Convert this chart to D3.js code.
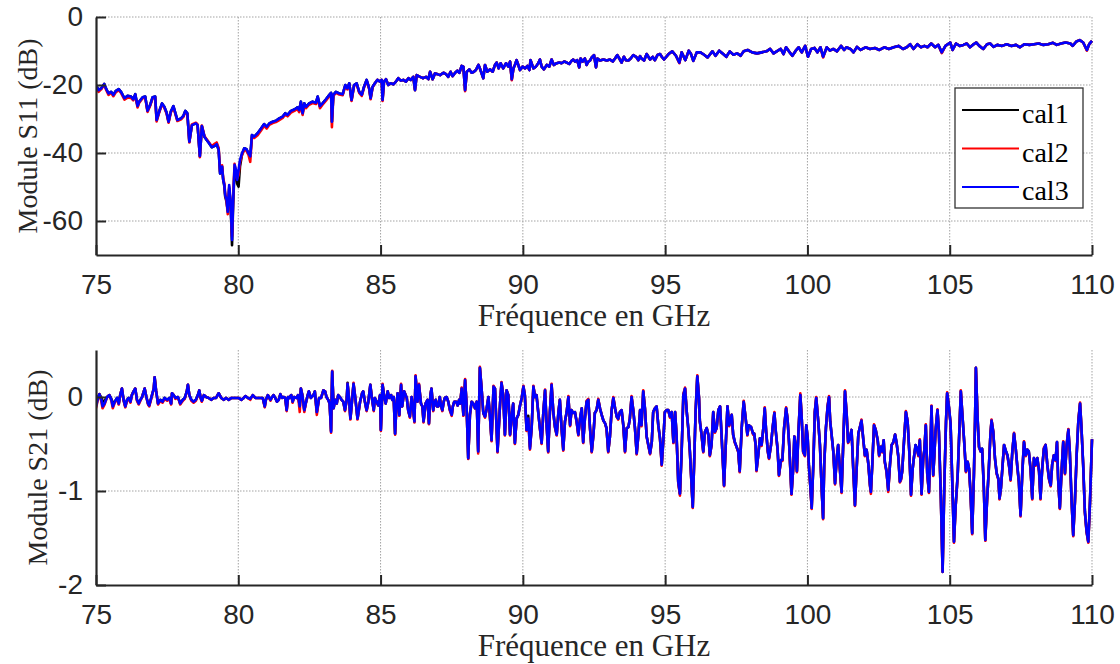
<!DOCTYPE html>
<html><head><meta charset="utf-8">
<script src="https://cdn.jsdelivr.net/npm/d3@7"></script>
<style>body{margin:0;background:#fff}svg{display:block}</style>
</head><body><svg id="chart" width="1120" height="664"></svg>
<script>
const xTicks=[75,80,85,90,95,100,105,110];
const s11YTicks=[0,-20,-40,-60];
const s21YTicks=[0,-1,-2];
const seriesNames=["cal1","cal2","cal3"];
const seriesColors=["#000000","#ff0000","#0000ff"];
const xTitle="Fréquence en GHz";

const s11Freq=[
75.00,75.09,75.18,75.29,75.35,75.44,75.53,75.61,75.70,75.80,
75.88,76.00,76.11,76.23,76.31,76.38,76.46,76.52,76.64,76.73,
76.81,76.90,76.99,77.08,77.13,77.22,77.32,77.40,77.48,77.55,
77.63,77.72,77.79,77.86,77.99,78.07,78.14,78.21,78.28,78.37,
78.51,78.57,78.65,78.72,78.81,78.89,78.98,79.07,79.17,79.24,
79.31,79.36,79.43,79.47,79.51,79.54,79.59,79.63,79.68,79.73,
79.78,79.82,79.87,79.92,79.96,80.01,80.06,80.13,80.21,80.29,
80.36,80.42,80.48,80.56,80.68,80.80,80.91,81.00,81.09,81.21,
81.32,81.44,81.56,81.65,81.73,81.85,81.97,82.08,82.14,82.20,
82.26,82.32,82.38,82.49,82.61,82.73,82.79,82.87,82.96,83.08,
83.20,83.26,83.29,83.34,83.43,83.55,83.67,83.76,83.83,83.90,
83.98,84.07,84.16,84.25,84.34,84.42,84.51,84.60,84.65,84.72,
84.80,84.89,84.98,85.04,85.07,85.12,85.19,85.27,85.35,85.45,
85.54,85.62,85.71,85.80,85.89,85.98,86.06,86.15,86.21,86.27,
86.39,86.50,86.60,86.68,86.74,86.83,86.91,86.99,87.09,87.21,
87.30,87.38,87.46,87.53,87.62,87.70,87.77,87.85,87.91,87.97,
88.03,88.12,88.20,88.28,88.35,88.44,88.49,88.55,88.61,88.67,
88.75,88.85,88.94,89.02,89.08,89.15,89.22,89.31,89.41,89.49,
89.55,89.61,89.67,89.72,89.78,89.84,89.90,89.99,90.08,90.16,
90.23,90.27,90.37,90.46,90.54,90.60,90.66,90.74,90.84,90.93,
91.01,91.09,91.19,91.28,91.36,91.45,91.54,91.63,91.72,91.77,
91.83,91.91,91.98,92.03,92.10,92.18,92.24,92.30,92.36,92.42,
92.50,92.57,92.62,92.71,92.83,92.95,93.06,93.16,93.24,93.32,
93.39,93.47,93.55,93.62,93.71,93.79,93.88,93.98,94.06,94.12,
94.17,94.26,94.35,94.41,94.47,94.56,94.64,94.73,94.82,94.88,
94.96,95.12,95.25,95.38,95.50,95.58,95.71,95.83,95.91,95.99,
96.11,96.24,96.37,96.49,96.66,96.77,96.90,97.04,97.15,97.27,
97.40,97.53,97.65,97.76,97.90,98.06,98.23,98.39,98.56,98.69,
98.81,98.92,99.06,99.16,99.25,99.35,99.47,99.59,99.69,99.80,
99.92,100.02,100.13,100.25,100.35,100.46,100.55,100.68,100.79,100.91,
101.04,101.18,101.29,101.37,101.51,101.62,101.74,101.87,102.04,102.20,
102.37,102.53,102.70,102.86,103.03,103.20,103.36,103.49,103.61,103.73,
103.86,103.99,104.11,104.22,104.35,104.49,104.60,104.72,104.85,105.02,
105.10,105.22,105.35,105.48,105.60,105.71,105.81,105.93,106.04,106.18,
106.31,106.42,106.54,106.67,106.84,107.00,107.17,107.33,107.47,107.63,
107.80,107.96,108.13,108.29,108.46,108.63,108.76,108.91,109.07,109.24,
109.32,109.45,109.57,109.69,109.82,109.90,110.00];

const s11Cal1=[
-20.0,-21.5,-21.0,-19.7,-21.0,-22.5,-22.0,-22.9,-21.7,-21.2,
-22.0,-23.9,-23.2,-23.4,-24.2,-22.7,-26.2,-24.9,-23.6,-23.4,
-27.6,-25.9,-23.6,-23.4,-30.3,-27.8,-25.4,-26.4,-28.1,-30.8,
-27.8,-26.2,-28.3,-30.3,-29.8,-29.1,-27.6,-28.3,-36.7,-31.8,
-31.3,-31.8,-40.9,-32.1,-35.2,-36.2,-37.2,-38.3,-37.9,-37.4,
-39.1,-46.0,-44.0,-47.9,-49.8,-52.8,-54.5,-57.0,-50.5,-55.0,
-67.1,-55.0,-44.5,-46.5,-49.0,-49.9,-44.0,-40.5,-38.6,-38.9,
-40.1,-41.0,-34.7,-35.2,-34.2,-32.8,-31.5,-32.3,-31.3,-30.8,
-30.5,-29.8,-29.3,-28.3,-28.8,-27.6,-27.2,-26.6,-27.4,-24.9,
-28.3,-25.4,-26.4,-25.4,-24.9,-25.2,-23.4,-26.2,-25.4,-24.2,
-22.9,-22.3,-30.8,-22.9,-22.0,-22.5,-22.7,-20.0,-21.0,-19.5,
-24.4,-20.0,-19.5,-22.0,-22.9,-20.5,-18.5,-21.0,-23.9,-20.5,
-19.5,-18.5,-19.0,-18.5,-24.4,-19.0,-18.3,-20.0,-19.5,-19.8,
-19.0,-18.0,-18.7,-18.5,-19.0,-18.0,-18.5,-17.6,-21.5,-17.1,
-17.6,-18.0,-17.6,-18.3,-16.1,-18.3,-16.6,-16.8,-17.1,-16.4,
-16.8,-17.6,-16.1,-17.4,-16.4,-15.8,-16.4,-14.4,-14.6,-21.5,
-16.1,-15.4,-16.4,-16.1,-15.6,-14.1,-15.1,-16.6,-18.0,-14.1,
-16.1,-15.4,-16.1,-14.1,-13.4,-15.1,-13.6,-15.1,-13.6,-14.6,
-13.1,-18.3,-15.1,-14.1,-12.7,-14.1,-15.6,-14.6,-15.1,-14.4,
-15.6,-12.7,-15.1,-14.6,-13.6,-12.5,-14.6,-15.4,-14.1,-14.6,
-12.5,-14.1,-13.6,-13.4,-13.6,-13.1,-13.4,-13.8,-12.8,-12.5,
-13.1,-12.7,-14.8,-12.2,-13.1,-12.2,-14.1,-13.1,-12.8,-11.9,
-11.2,-14.8,-12.2,-12.8,-12.5,-12.8,-12.5,-13.1,-12.2,-11.2,
-12.2,-13.4,-11.7,-12.7,-12.8,-12.2,-11.2,-11.7,-12.7,-11.5,
-12.2,-12.8,-10.9,-11.7,-12.5,-11.7,-12.7,-11.2,-10.9,-11.7,
-12.5,-10.9,-10.1,-11.4,-13.4,-10.4,-12.7,-9.9,-10.9,-12.9,
-10.4,-10.4,-11.1,-11.9,-10.1,-11.4,-9.9,-10.9,-11.7,-10.1,
-11.1,-10.7,-11.4,-10.1,-9.7,-10.4,-10.7,-10.4,-10.1,-9.4,
-10.7,-10.1,-9.4,-10.9,-8.9,-10.1,-11.4,-9.9,-8.9,-10.4,
-8.5,-11.7,-9.4,-9.1,-10.4,-8.9,-11.7,-8.9,-9.9,-9.4,
-10.1,-8.5,-9.7,-8.9,-9.4,-10.4,-8.8,-9.7,-8.9,-9.4,
-9.1,-9.7,-8.9,-9.4,-8.9,-8.5,-9.4,-8.9,-8.0,-9.4,
-8.0,-8.9,-8.5,-8.9,-7.8,-8.9,-8.2,-10.4,-8.5,-7.5,
-9.7,-7.8,-8.5,-8.2,-7.8,-8.9,-8.2,-7.5,-8.5,-9.4,
-8.0,-7.8,-8.8,-8.2,-8.5,-8.0,-8.5,-8.2,-8.9,-8.0,
-8.2,-8.0,-7.8,-8.2,-8.0,-7.6,-8.2,-7.8,-7.5,-7.8,
-8.5,-7.2,-6.8,-7.5,-9.7,-8.0,-7.0];

const s11Cal2=[
-20.2,-22.0,-21.3,-19.9,-21.3,-22.9,-22.3,-23.3,-22.1,-21.5,
-22.3,-24.3,-23.7,-23.8,-24.5,-23.0,-26.6,-25.2,-23.9,-23.7,
-27.9,-26.2,-23.9,-23.7,-30.7,-28.1,-25.7,-26.7,-28.4,-31.1,
-28.1,-26.5,-28.6,-30.6,-30.1,-29.4,-27.9,-28.6,-36.9,-31.6,
-31.1,-31.6,-41.2,-31.9,-35.0,-36.0,-37.0,-38.0,-37.3,-36.9,
-38.5,-45.5,-43.6,-47.5,-49.0,-52.0,-54.3,-58.0,-50.0,-54.8,
-64.5,-53.0,-43.2,-45.5,-47.5,-46.5,-42.8,-40.6,-39.0,-39.4,
-40.6,-42.6,-35.3,-35.6,-34.8,-33.4,-32.0,-32.8,-31.7,-31.2,
-30.9,-30.3,-29.7,-28.7,-29.2,-28.1,-27.6,-27.0,-28.0,-25.3,
-28.8,-25.8,-26.8,-25.8,-25.3,-25.6,-23.8,-26.8,-25.8,-24.6,
-23.2,-22.6,-32.4,-23.2,-22.3,-22.8,-23.0,-20.3,-21.3,-19.7,
-24.7,-20.2,-19.7,-22.3,-23.2,-20.7,-18.7,-21.2,-24.2,-20.7,
-19.5,-18.5,-19.0,-18.5,-24.7,-19.0,-18.3,-20.0,-19.5,-19.8,
-19.0,-18.0,-18.7,-18.5,-19.0,-18.0,-18.5,-17.6,-21.5,-17.1,
-17.6,-18.0,-17.6,-18.3,-16.1,-18.3,-16.6,-16.8,-17.1,-16.4,
-16.8,-17.6,-16.1,-17.4,-16.4,-15.8,-16.4,-14.4,-14.6,-21.8,
-16.1,-15.4,-16.4,-16.1,-15.6,-14.1,-15.1,-16.6,-18.0,-14.1,
-16.1,-15.4,-16.1,-14.1,-13.4,-15.1,-13.6,-15.1,-13.6,-14.6,
-13.1,-18.6,-15.1,-14.1,-12.7,-14.1,-15.6,-14.6,-15.1,-14.4,
-15.6,-12.7,-15.1,-14.6,-13.6,-12.5,-14.6,-15.4,-14.1,-14.6,
-12.5,-14.1,-13.6,-13.4,-13.6,-13.1,-13.4,-13.8,-12.8,-12.5,
-13.1,-12.7,-14.8,-12.2,-13.1,-12.2,-14.1,-13.1,-12.8,-11.9,
-11.2,-14.8,-12.2,-12.8,-12.5,-12.8,-12.5,-13.1,-12.2,-11.2,
-12.2,-13.4,-11.7,-12.7,-12.8,-12.2,-11.2,-11.7,-12.7,-11.5,
-12.2,-12.8,-10.9,-11.7,-12.5,-11.7,-12.7,-11.2,-10.9,-11.7,
-12.5,-10.9,-10.1,-11.4,-13.6,-10.4,-12.7,-9.9,-10.9,-12.9,
-10.4,-10.4,-11.1,-11.9,-10.1,-11.4,-9.9,-10.9,-11.7,-10.1,
-11.1,-10.7,-11.4,-10.1,-9.7,-10.4,-10.7,-10.4,-10.1,-9.4,
-10.7,-10.1,-9.4,-10.9,-8.9,-10.1,-11.4,-9.9,-8.9,-10.4,
-8.5,-11.7,-9.4,-9.1,-10.4,-8.9,-11.9,-8.9,-9.9,-9.4,
-10.1,-8.5,-9.7,-8.9,-9.4,-10.4,-8.8,-9.7,-8.9,-9.4,
-9.1,-9.7,-8.9,-9.4,-8.9,-8.5,-9.4,-8.9,-8.0,-9.4,
-8.0,-8.9,-8.5,-8.9,-7.8,-8.9,-8.2,-10.6,-8.5,-7.5,
-9.7,-7.8,-8.5,-8.2,-7.8,-8.9,-8.2,-7.5,-8.5,-9.4,
-8.0,-7.8,-8.8,-8.2,-8.5,-8.0,-8.5,-8.2,-8.9,-8.0,
-8.2,-8.0,-7.8,-8.2,-8.0,-7.6,-8.2,-7.8,-7.5,-7.8,
-8.5,-7.2,-6.8,-7.5,-9.9,-8.0,-7.0];

const s11Cal3=[
-20.0,-21.5,-21.0,-19.7,-21.0,-22.5,-22.0,-22.9,-21.7,-21.2,
-22.0,-23.9,-23.2,-23.4,-24.2,-22.7,-26.2,-24.9,-23.6,-23.4,
-27.6,-25.9,-23.6,-23.4,-30.3,-27.8,-25.4,-26.4,-28.1,-30.8,
-27.8,-26.2,-28.3,-30.3,-29.8,-29.1,-27.6,-28.3,-36.7,-31.8,
-31.3,-31.8,-40.9,-32.1,-35.2,-36.2,-37.2,-38.3,-37.9,-37.4,
-39.1,-46.0,-44.0,-47.9,-49.4,-52.4,-53.8,-57.3,-49.4,-54.3,
-65.6,-53.8,-43.5,-45.0,-47.9,-45.0,-42.1,-40.1,-38.6,-38.9,
-40.1,-41.0,-34.7,-35.2,-34.2,-32.8,-31.5,-32.3,-31.3,-30.8,
-30.5,-29.8,-29.3,-28.3,-28.8,-27.6,-27.2,-26.6,-27.4,-24.9,
-28.3,-25.4,-26.4,-25.4,-24.9,-25.2,-23.4,-26.2,-25.4,-24.2,
-22.9,-22.3,-30.8,-22.9,-22.0,-22.5,-22.7,-20.0,-21.0,-19.5,
-24.4,-20.0,-19.5,-22.0,-22.9,-20.5,-18.5,-21.0,-23.9,-20.5,
-19.5,-18.5,-19.0,-18.5,-24.4,-19.0,-18.3,-20.0,-19.5,-19.8,
-19.0,-18.0,-18.7,-18.5,-19.0,-18.0,-18.5,-17.6,-21.5,-17.1,
-17.6,-18.0,-17.6,-18.3,-16.1,-18.3,-16.6,-16.8,-17.1,-16.4,
-16.8,-17.6,-16.1,-17.4,-16.4,-15.8,-16.4,-14.4,-14.6,-21.5,
-16.1,-15.4,-16.4,-16.1,-15.6,-14.1,-15.1,-16.6,-18.0,-14.1,
-16.1,-15.4,-16.1,-14.1,-13.4,-15.1,-13.6,-15.1,-13.6,-14.6,
-13.1,-18.3,-15.1,-14.1,-12.7,-14.1,-15.6,-14.6,-15.1,-14.4,
-15.6,-12.7,-15.1,-14.6,-13.6,-12.5,-14.6,-15.4,-14.1,-14.6,
-12.5,-14.1,-13.6,-13.4,-13.6,-13.1,-13.4,-13.8,-12.8,-12.5,
-13.1,-12.7,-14.8,-12.2,-13.1,-12.2,-14.1,-13.1,-12.8,-11.9,
-11.2,-14.8,-12.2,-12.8,-12.5,-12.8,-12.5,-13.1,-12.2,-11.2,
-12.2,-13.4,-11.7,-12.7,-12.8,-12.2,-11.2,-11.7,-12.7,-11.5,
-12.2,-12.8,-10.9,-11.7,-12.5,-11.7,-12.7,-11.2,-10.9,-11.7,
-12.5,-10.9,-10.1,-11.4,-13.4,-10.4,-12.7,-9.9,-10.9,-12.9,
-10.4,-10.4,-11.1,-11.9,-10.1,-11.4,-9.9,-10.9,-11.7,-10.1,
-11.1,-10.7,-11.4,-10.1,-9.7,-10.4,-10.7,-10.4,-10.1,-9.4,
-10.7,-10.1,-9.4,-10.9,-8.9,-10.1,-11.4,-9.9,-8.9,-10.4,
-8.5,-11.7,-9.4,-9.1,-10.4,-8.9,-11.7,-8.9,-9.9,-9.4,
-10.1,-8.5,-9.7,-8.9,-9.4,-10.4,-8.8,-9.7,-8.9,-9.4,
-9.1,-9.7,-8.9,-9.4,-8.9,-8.5,-9.4,-8.9,-8.0,-9.4,
-8.0,-8.9,-8.5,-8.9,-7.8,-8.9,-8.2,-10.4,-8.5,-7.5,
-9.7,-7.8,-8.5,-8.2,-7.8,-8.9,-8.2,-7.5,-8.5,-9.4,
-8.0,-7.8,-8.8,-8.2,-8.5,-8.0,-8.5,-8.2,-8.9,-8.0,
-8.2,-8.0,-7.8,-8.2,-8.0,-7.6,-8.2,-7.8,-7.5,-7.8,
-8.5,-7.2,-6.8,-7.5,-9.7,-8.0,-7.0];

const s21Freq=[
75.00,75.07,75.12,75.19,75.23,75.30,75.39,75.47,75.54,75.59,
75.66,75.74,75.80,75.85,75.91,75.97,76.03,76.09,76.15,76.21,
76.26,76.32,76.38,76.44,76.50,76.56,76.62,76.71,76.77,76.83,
76.87,76.94,77.03,77.06,77.11,77.18,77.26,77.34,77.41,77.50,
77.58,77.64,77.67,77.73,77.79,77.88,77.96,78.05,78.12,78.19,
78.23,78.28,78.35,78.43,78.51,78.58,78.63,78.68,78.72,78.79,
78.87,78.96,79.05,79.13,79.22,79.31,79.40,79.49,79.57,79.66,
79.76,79.84,79.92,80.01,80.11,80.19,80.25,80.34,80.42,80.51,
80.60,80.69,80.78,80.86,80.93,80.97,81.04,81.13,81.19,81.24,
81.30,81.36,81.42,81.48,81.54,81.59,81.65,81.70,81.75,81.79,
81.86,81.91,81.96,82.05,82.10,82.16,82.20,82.25,82.32,82.37,
82.44,82.48,82.55,82.64,82.69,82.76,82.84,82.91,82.99,83.05,
83.10,83.16,83.21,83.26,83.30,83.35,83.40,83.46,83.51,83.57,
83.63,83.69,83.75,83.81,83.84,83.89,83.94,83.98,84.05,84.12,
84.19,84.28,84.35,84.39,84.45,84.51,84.57,84.64,84.69,84.76,
84.80,84.86,84.92,84.98,85.01,85.07,85.13,85.18,85.25,85.30,
85.37,85.41,85.46,85.51,85.56,85.60,85.66,85.72,85.76,85.83,
85.92,85.97,86.03,86.09,86.14,86.19,86.23,86.30,86.35,86.42,
86.47,86.51,86.58,86.65,86.70,86.75,86.79,86.85,86.89,86.94,
86.98,87.03,87.08,87.12,87.17,87.22,87.26,87.32,87.38,87.44,
87.50,87.54,87.59,87.66,87.71,87.76,87.80,87.85,87.91,87.97,
88.02,88.08,88.14,88.20,88.26,88.32,88.38,88.43,88.49,88.55,
88.61,88.67,88.73,88.79,88.84,88.90,88.97,89.02,89.11,89.20,
89.25,89.31,89.37,89.43,89.49,89.55,89.61,89.66,89.72,89.78,
89.84,89.90,89.96,90.02,90.07,90.13,90.19,90.25,90.31,90.37,
90.43,90.48,90.54,90.60,90.66,90.72,90.78,90.84,90.89,90.95,
91.01,91.07,91.13,91.19,91.25,91.30,91.36,91.42,91.48,91.54,
91.60,91.66,91.71,91.77,91.83,91.89,91.95,92.01,92.07,92.12,
92.18,92.24,92.30,92.36,92.42,92.48,92.53,92.59,92.65,92.71,
92.77,92.83,92.89,92.94,93.00,93.06,93.12,93.18,93.24,93.30,
93.35,93.41,93.47,93.53,93.59,93.65,93.71,93.76,93.82,93.88,
93.94,94.00,94.06,94.12,94.17,94.23,94.29,94.35,94.41,94.47,
94.53,94.58,94.64,94.70,94.76,94.82,94.88,94.94,94.99,95.05,
95.11,95.17,95.23,95.29,95.35,95.40,95.46,95.52,95.58,95.64,
95.70,95.76,95.81,95.87,95.93,95.97,96.02,96.07,96.13,96.19,
96.22,96.28,96.34,96.40,96.46,96.52,96.57,96.63,96.69,96.75,
96.81,96.87,96.93,96.98,97.07,97.12,97.19,97.25,97.34,97.39,
97.45,97.51,97.57,97.62,97.69,97.76,97.83,97.89,97.94,98.02,
98.09,98.13,98.18,98.21,98.27,98.33,98.39,98.45,98.50,98.55,
98.61,98.65,98.72,98.78,98.84,98.89,98.95,99.00,99.07,99.12,
99.18,99.25,99.30,99.36,99.44,99.50,99.54,99.58,99.63,99.68,
99.75,99.80,99.85,99.91,99.96,100.01,100.05,100.10,100.15,100.21,
100.26,100.31,100.38,100.44,100.50,100.55,100.59,100.65,100.71,100.76,
100.80,100.85,100.91,100.97,101.03,101.08,101.14,101.20,101.26,101.32,
101.38,101.43,101.49,101.55,101.61,101.67,101.73,101.79,101.86,101.90,
101.96,102.02,102.08,102.14,102.20,102.23,102.28,102.34,102.40,102.47,
102.52,102.58,102.63,102.68,102.72,102.78,102.84,102.90,102.96,103.02,
103.08,103.13,103.19,103.25,103.29,103.33,103.40,103.46,103.52,103.58,
103.64,103.70,103.74,103.80,103.85,103.90,103.95,104.01,104.07,104.11,
104.16,104.21,104.27,104.32,104.36,104.42,104.46,104.50,104.57,104.62,
104.69,104.75,104.81,104.87,104.91,104.97,105.03,105.09,105.15,105.21,
105.28,105.34,105.39,105.45,105.51,105.57,105.63,105.68,105.73,105.79,
105.85,105.89,105.92,105.98,106.03,106.09,106.14,106.20,106.25,106.31,
106.37,106.43,106.47,106.53,106.59,106.65,106.71,106.75,106.80,106.85,
106.91,106.98,107.03,107.09,107.14,107.20,107.26,107.32,107.37,107.43,
107.49,107.55,107.61,107.67,107.73,107.78,107.84,107.90,107.96,108.02,
108.08,108.14,108.19,108.25,108.31,108.37,108.43,108.49,108.55,108.60,
108.66,108.72,108.77,108.81,108.87,108.93,108.99,109.05,109.11,109.17,
109.22,109.28,109.34,109.40,109.46,109.52,109.58,109.63,109.69,109.75,
109.81,109.87,109.93,110.00];

const s21Cal1=[
-0.02,0.00,0.03,-0.01,-0.05,-0.04,0.00,0.02,-0.02,-0.06,
-0.05,-0.01,-0.07,0.02,0.09,-0.03,-0.10,-0.03,-0.01,-0.05,
0.02,0.06,0.09,-0.03,-0.07,-0.03,0.00,0.09,0.00,-0.07,
-0.09,-0.01,0.09,0.21,0.07,-0.07,-0.03,-0.05,-0.01,-0.03,
-0.01,-0.07,0.04,0.02,-0.01,0.00,-0.07,-0.03,-0.01,0.06,
0.13,0.02,-0.03,-0.05,-0.03,0.02,0.07,-0.01,-0.04,0.02,
0.00,-0.01,-0.03,-0.01,-0.01,0.04,-0.01,-0.03,-0.01,-0.03,
-0.01,-0.01,-0.01,-0.01,-0.03,-0.01,0.01,-0.01,-0.02,0.02,
-0.01,-0.01,-0.01,-0.01,-0.10,-0.03,0.02,-0.03,0.00,0.02,
-0.01,-0.05,-0.03,0.03,-0.01,0.00,-0.01,-0.14,0.00,-0.01,
0.02,-0.05,0.00,-0.01,0.02,-0.10,0.09,0.02,-0.14,-0.07,
0.02,0.06,-0.01,0.02,0.06,-0.16,-0.01,-0.01,0.07,0.06,
0.00,-0.03,-0.07,-0.36,0.27,-0.12,-0.03,-0.07,0.02,0.00,
-0.03,-0.05,-0.14,-0.03,0.15,-0.01,-0.23,-0.10,0.14,-0.03,
-0.23,-0.05,0.04,0.06,-0.05,-0.14,-0.05,0.13,0.00,-0.14,
-0.01,-0.05,-0.09,0.02,-0.35,0.13,0.00,-0.07,0.06,-0.01,
0.02,-0.03,0.00,-0.39,-0.07,0.04,-0.19,0.13,-0.10,0.06,
-0.01,-0.14,-0.21,0.00,-0.12,-0.26,0.22,-0.05,0.13,-0.07,
-0.10,-0.26,-0.07,-0.03,-0.28,0.02,0.09,-0.14,-0.07,-0.03,
-0.10,-0.10,0.00,-0.09,-0.14,-0.05,-0.01,0.00,-0.05,-0.14,
-0.19,-0.10,-0.05,-0.05,-0.09,-0.03,-0.07,0.09,-0.19,0.18,
-0.07,-0.65,-0.19,-0.05,-0.07,-0.12,-0.05,-0.58,0.31,0.09,
-0.17,-0.21,-0.12,0.00,-0.19,-0.46,0.11,0.09,-0.58,-0.07,
0.15,0.02,-0.40,0.07,0.02,-0.40,-0.19,-0.07,-0.49,-0.23,
-0.19,-0.09,-0.01,0.11,0.02,-0.35,-0.20,-0.53,-0.32,0.11,
0.00,0.02,-0.16,-0.33,-0.49,-0.16,0.07,-0.32,-0.58,-0.16,
0.13,-0.16,-0.32,-0.40,-0.16,-0.03,-0.33,-0.56,-0.26,-0.16,
0.00,-0.30,-0.14,-0.17,-0.16,-0.26,-0.40,-0.23,-0.12,-0.48,
-0.23,-0.05,-0.03,-0.33,-0.58,-0.40,-0.17,-0.14,-0.03,-0.12,
-0.19,-0.25,-0.28,-0.33,-0.58,-0.42,-0.14,-0.01,-0.12,-0.21,
-0.23,-0.16,-0.14,-0.30,-0.58,-0.33,-0.32,-0.23,0.00,-0.14,
-0.33,-0.60,-0.40,-0.14,-0.30,0.06,-0.12,-0.42,-0.51,-0.60,
-0.48,-0.16,-0.12,-0.10,-0.30,-0.44,-0.72,-0.44,-0.16,-0.14,
-0.14,-0.21,-0.16,-0.48,-0.16,-0.40,-0.90,-1.03,-0.58,0.02,
0.09,-0.16,-0.32,-0.58,-0.94,-1.17,-0.69,-0.16,0.22,-0.01,
-0.26,-0.40,-0.58,-0.37,-0.33,-0.40,-0.62,-0.51,-0.16,-0.37,
-0.33,-0.14,-0.10,-0.39,-0.94,-0.58,-0.10,-0.30,-0.19,-0.40,
-0.48,-0.53,-0.58,-0.79,-0.33,-0.05,-0.23,-0.40,-0.30,-0.32,
-0.39,-0.39,-0.51,-0.78,-0.62,-0.44,-0.51,-0.33,-0.12,-0.37,
-0.58,-0.65,-0.51,-0.32,-0.17,-0.37,-0.55,-0.83,-0.67,-0.67,
-0.33,-0.12,-0.23,-0.51,-1.03,-0.76,-0.42,-0.51,-0.79,-0.40,
0.02,-0.23,-0.58,-0.62,-0.30,-0.44,-0.72,-0.94,-1.18,-0.69,
-0.16,-0.01,-0.26,-0.51,-0.97,-1.29,-0.72,-0.33,-0.10,0.00,
-0.26,-0.40,-0.58,-0.92,-0.65,-0.51,-0.76,-1.01,-0.48,0.06,
-0.19,-0.48,-0.44,-0.35,-0.76,-1.15,-0.76,-0.39,-0.30,-0.25,
-0.44,-0.62,-0.56,-0.71,-0.94,-1.01,-0.71,-0.30,-0.35,-0.46,
-0.62,-0.53,-0.58,-0.46,-0.69,-0.79,-0.99,-0.72,-0.51,-0.48,
-0.40,-0.48,-0.62,-0.90,-0.87,-0.79,-0.44,-0.16,-0.26,-0.58,
-1.04,-0.76,-0.65,-0.51,-0.55,-0.62,-0.46,-1.03,-0.65,-0.56,
-0.30,-0.81,-1.01,-0.58,-0.10,-0.83,-0.62,-0.37,-0.14,-0.37,
-1.08,-1.86,-0.94,-0.26,0.04,-0.10,-0.28,-0.90,-1.54,-1.15,
-0.83,-0.35,0.06,-0.21,-0.48,-0.79,-0.69,-0.76,-1.01,-1.45,
-0.83,-0.26,0.31,-0.23,-0.53,-0.58,-0.55,-0.97,-1.52,-1.11,
-0.79,-0.40,-0.25,-0.37,-0.65,-0.81,-0.87,-1.08,-0.97,-0.76,
-0.51,-0.58,-0.62,-0.74,-0.88,-0.58,-0.39,-0.55,-0.72,-0.90,
-1.26,-0.81,-0.48,-0.62,-0.56,-0.58,-0.76,-1.08,-0.65,-0.72,
-0.65,-0.79,-1.08,-0.76,-0.55,-0.51,-0.72,-0.87,-0.94,-0.72,
-0.62,-0.67,-0.48,-0.87,-1.18,-0.79,-0.48,-0.81,-0.51,-0.35,
-0.58,-1.08,-1.47,-1.11,-0.62,-0.26,-0.07,-0.33,-0.72,-1.22,
-1.43,-1.54,-1.11,-0.45];

const s21Cal2=[
-0.12,-0.02,0.03,-0.05,-0.12,-0.08,0.00,0.02,-0.04,-0.12,
-0.06,-0.02,-0.08,0.02,0.09,-0.04,-0.11,-0.04,-0.02,-0.06,
0.02,0.06,0.09,-0.04,-0.08,-0.04,0.00,0.09,0.00,-0.08,
-0.10,-0.02,0.09,0.21,0.07,-0.08,-0.04,-0.06,-0.02,-0.04,
-0.02,-0.08,0.04,0.02,-0.02,0.00,-0.08,-0.04,-0.02,0.06,
0.13,0.02,-0.04,-0.06,-0.04,0.02,0.07,-0.02,-0.05,0.02,
0.00,-0.01,-0.03,-0.01,-0.01,0.04,-0.01,-0.03,-0.01,-0.03,
-0.01,-0.01,-0.01,-0.01,-0.03,-0.01,0.01,-0.01,-0.03,0.02,
-0.01,-0.01,-0.01,-0.01,-0.11,-0.03,0.02,-0.04,0.00,0.02,
-0.01,-0.05,-0.03,0.03,-0.01,0.00,-0.01,-0.15,0.00,-0.01,
0.02,-0.06,0.00,-0.01,0.02,-0.16,0.09,0.02,-0.16,-0.07,
0.02,0.06,-0.01,0.02,0.06,-0.19,-0.01,-0.01,0.07,0.06,
0.00,-0.03,-0.07,-0.38,0.28,-0.12,-0.03,-0.07,0.02,0.00,
-0.03,-0.05,-0.15,-0.03,0.14,-0.01,-0.24,-0.10,0.15,-0.03,
-0.24,-0.05,0.04,0.06,-0.05,-0.15,-0.05,0.13,0.00,-0.15,
-0.01,-0.05,-0.09,0.02,-0.36,0.14,0.00,-0.07,0.06,-0.01,
0.02,-0.03,0.00,-0.40,-0.07,0.04,-0.20,0.14,-0.10,0.06,
-0.01,-0.14,-0.22,0.00,-0.12,-0.27,0.23,-0.05,0.14,-0.07,
-0.10,-0.27,-0.07,-0.03,-0.29,0.02,0.09,-0.15,-0.07,-0.03,
-0.10,-0.10,0.00,-0.09,-0.15,-0.05,-0.01,0.00,-0.05,-0.15,
-0.20,-0.10,-0.05,-0.05,-0.09,-0.03,-0.07,0.10,-0.20,0.19,
-0.07,-0.66,-0.19,-0.05,-0.07,-0.12,-0.05,-0.60,0.32,0.09,
-0.17,-0.22,-0.12,0.00,-0.20,-0.47,0.12,0.09,-0.59,-0.07,
0.16,0.02,-0.41,0.07,0.02,-0.41,-0.19,-0.07,-0.50,-0.23,
-0.19,-0.09,-0.01,0.12,0.02,-0.36,-0.24,-0.56,-0.32,0.12,
0.00,0.02,-0.16,-0.34,-0.50,-0.16,0.08,-0.32,-0.59,-0.16,
0.14,-0.16,-0.33,-0.41,-0.16,-0.03,-0.34,-0.57,-0.26,-0.16,
0.01,-0.31,-0.14,-0.17,-0.16,-0.27,-0.41,-0.23,-0.12,-0.49,
-0.23,-0.04,-0.02,-0.34,-0.59,-0.40,-0.17,-0.14,-0.02,-0.12,
-0.19,-0.25,-0.28,-0.34,-0.59,-0.42,-0.14,0.00,-0.12,-0.21,
-0.24,-0.16,-0.14,-0.31,-0.59,-0.33,-0.32,-0.23,0.01,-0.14,
-0.34,-0.61,-0.40,-0.14,-0.31,0.07,-0.12,-0.42,-0.52,-0.61,
-0.48,-0.16,-0.12,-0.10,-0.31,-0.45,-0.73,-0.44,-0.16,-0.14,
-0.14,-0.22,-0.16,-0.49,-0.16,-0.41,-0.91,-1.05,-0.58,0.03,
0.10,-0.16,-0.33,-0.59,-0.95,-1.18,-0.69,-0.16,0.23,-0.01,
-0.26,-0.41,-0.59,-0.37,-0.33,-0.41,-0.63,-0.51,-0.16,-0.38,
-0.33,-0.14,-0.10,-0.40,-0.95,-0.58,-0.10,-0.31,-0.19,-0.41,
-0.49,-0.53,-0.59,-0.80,-0.33,-0.04,-0.23,-0.41,-0.30,-0.32,
-0.40,-0.39,-0.52,-0.79,-0.62,-0.44,-0.52,-0.33,-0.11,-0.38,
-0.59,-0.66,-0.51,-0.32,-0.16,-0.38,-0.56,-0.84,-0.67,-0.68,
-0.33,-0.11,-0.23,-0.52,-1.04,-0.76,-0.42,-0.52,-0.80,-0.40,
0.04,-0.23,-0.59,-0.63,-0.30,-0.45,-0.73,-0.95,-1.19,-0.69,
-0.15,0.00,-0.26,-0.52,-0.98,-1.30,-0.72,-0.33,-0.09,0.01,
-0.26,-0.41,-0.59,-0.93,-0.65,-0.51,-0.77,-1.02,-0.48,0.07,
-0.19,-0.49,-0.44,-0.35,-0.77,-1.16,-0.76,-0.39,-0.30,-0.24,
-0.45,-0.63,-0.56,-0.72,-0.95,-1.03,-0.71,-0.29,-0.35,-0.47,
-0.63,-0.53,-0.59,-0.46,-0.70,-0.80,-1.01,-0.72,-0.51,-0.49,
-0.40,-0.49,-0.63,-0.91,-0.88,-0.79,-0.44,-0.15,-0.26,-0.59,
-1.05,-0.76,-0.65,-0.52,-0.55,-0.63,-0.45,-1.04,-0.65,-0.57,
-0.29,-0.82,-1.02,-0.58,-0.09,-0.84,-0.62,-0.37,-0.13,-0.38,
-1.09,-1.86,-0.94,-0.26,0.05,-0.10,-0.29,-0.91,-1.55,-1.16,
-0.84,-0.35,0.07,-0.21,-0.49,-0.80,-0.69,-0.77,-1.02,-1.46,
-0.83,-0.26,0.31,-0.23,-0.54,-0.58,-0.56,-0.98,-1.53,-1.12,
-0.80,-0.40,-0.24,-0.37,-0.66,-0.82,-0.88,-1.09,-0.97,-0.76,
-0.51,-0.59,-0.63,-0.75,-0.89,-0.58,-0.38,-0.55,-0.73,-0.91,
-1.27,-0.81,-0.47,-0.63,-0.56,-0.59,-0.77,-1.09,-0.65,-0.73,
-0.65,-0.80,-1.09,-0.76,-0.54,-0.51,-0.73,-0.88,-0.95,-0.72,
-0.62,-0.68,-0.48,-0.88,-1.19,-0.79,-0.47,-0.82,-0.51,-0.34,
-0.59,-1.09,-1.48,-1.12,-0.62,-0.25,-0.06,-0.33,-0.73,-1.23,
-1.44,-1.55,-1.12,-0.45];

const s21Cal3=[
-0.10,-0.01,0.03,-0.03,-0.10,-0.07,0.00,0.02,-0.03,-0.10,
-0.05,-0.01,-0.07,0.02,0.09,-0.03,-0.10,-0.03,-0.01,-0.05,
0.02,0.06,0.09,-0.03,-0.07,-0.03,0.00,0.09,0.00,-0.07,
-0.09,-0.01,0.09,0.21,0.07,-0.07,-0.03,-0.05,-0.01,-0.03,
-0.01,-0.07,0.04,0.02,-0.01,0.00,-0.07,-0.03,-0.01,0.06,
0.13,0.02,-0.03,-0.05,-0.03,0.02,0.07,-0.01,-0.04,0.02,
0.00,-0.01,-0.03,-0.01,-0.01,0.04,-0.01,-0.03,-0.01,-0.03,
-0.01,-0.01,-0.01,-0.01,-0.03,-0.01,0.01,-0.01,-0.02,0.02,
-0.01,-0.01,-0.01,-0.01,-0.10,-0.03,0.02,-0.03,0.00,0.02,
-0.01,-0.05,-0.03,0.03,-0.01,0.00,-0.01,-0.14,0.00,-0.01,
0.02,-0.05,0.00,-0.01,0.02,-0.10,0.09,0.02,-0.14,-0.07,
0.02,0.06,-0.01,0.02,0.06,-0.16,-0.01,-0.01,0.07,0.06,
0.00,-0.03,-0.07,-0.37,0.27,-0.12,-0.03,-0.07,0.02,0.00,
-0.03,-0.05,-0.14,-0.03,0.14,-0.01,-0.23,-0.10,0.14,-0.03,
-0.23,-0.05,0.04,0.06,-0.05,-0.14,-0.05,0.13,0.00,-0.14,
-0.01,-0.05,-0.09,0.02,-0.35,0.13,0.00,-0.07,0.06,-0.01,
0.02,-0.03,0.00,-0.39,-0.07,0.04,-0.19,0.13,-0.10,0.06,
-0.01,-0.14,-0.21,0.00,-0.12,-0.26,0.22,-0.05,0.13,-0.07,
-0.10,-0.26,-0.07,-0.03,-0.28,0.02,0.09,-0.14,-0.07,-0.03,
-0.10,-0.10,0.00,-0.09,-0.14,-0.05,-0.01,0.00,-0.05,-0.14,
-0.19,-0.10,-0.05,-0.05,-0.09,-0.03,-0.07,0.09,-0.19,0.18,
-0.07,-0.65,-0.19,-0.05,-0.07,-0.12,-0.05,-0.58,0.31,0.09,
-0.17,-0.21,-0.12,0.00,-0.19,-0.46,0.11,0.09,-0.58,-0.07,
0.15,0.02,-0.40,0.07,0.02,-0.40,-0.19,-0.07,-0.49,-0.23,
-0.19,-0.09,-0.01,0.11,0.02,-0.35,-0.23,-0.55,-0.32,0.11,
0.00,0.02,-0.16,-0.33,-0.49,-0.16,0.07,-0.32,-0.58,-0.16,
0.13,-0.16,-0.32,-0.40,-0.16,-0.03,-0.33,-0.56,-0.26,-0.16,
0.00,-0.30,-0.14,-0.17,-0.16,-0.26,-0.40,-0.23,-0.12,-0.48,
-0.23,-0.05,-0.03,-0.33,-0.58,-0.40,-0.17,-0.14,-0.03,-0.12,
-0.19,-0.25,-0.28,-0.33,-0.58,-0.42,-0.14,-0.01,-0.12,-0.21,
-0.23,-0.16,-0.14,-0.30,-0.58,-0.33,-0.32,-0.23,0.00,-0.14,
-0.33,-0.60,-0.40,-0.14,-0.30,0.06,-0.12,-0.42,-0.51,-0.60,
-0.48,-0.16,-0.12,-0.10,-0.30,-0.44,-0.72,-0.44,-0.16,-0.14,
-0.14,-0.21,-0.16,-0.48,-0.16,-0.40,-0.90,-1.03,-0.58,0.02,
0.09,-0.16,-0.32,-0.58,-0.94,-1.17,-0.69,-0.16,0.22,-0.01,
-0.26,-0.40,-0.58,-0.37,-0.33,-0.40,-0.62,-0.51,-0.16,-0.37,
-0.33,-0.14,-0.10,-0.39,-0.94,-0.58,-0.10,-0.30,-0.19,-0.40,
-0.48,-0.53,-0.58,-0.79,-0.33,-0.05,-0.23,-0.40,-0.30,-0.32,
-0.39,-0.39,-0.51,-0.78,-0.62,-0.44,-0.51,-0.33,-0.12,-0.37,
-0.58,-0.65,-0.51,-0.32,-0.17,-0.37,-0.55,-0.83,-0.67,-0.67,
-0.33,-0.12,-0.23,-0.51,-1.03,-0.76,-0.42,-0.51,-0.79,-0.40,
0.02,-0.23,-0.58,-0.62,-0.30,-0.44,-0.72,-0.94,-1.18,-0.69,
-0.16,-0.01,-0.26,-0.51,-0.97,-1.29,-0.72,-0.33,-0.10,0.00,
-0.26,-0.40,-0.58,-0.92,-0.65,-0.51,-0.76,-1.01,-0.48,0.06,
-0.19,-0.48,-0.44,-0.35,-0.76,-1.15,-0.76,-0.39,-0.30,-0.25,
-0.44,-0.62,-0.56,-0.71,-0.94,-1.01,-0.71,-0.30,-0.35,-0.46,
-0.62,-0.53,-0.58,-0.46,-0.69,-0.79,-0.99,-0.72,-0.51,-0.48,
-0.40,-0.48,-0.62,-0.90,-0.87,-0.79,-0.44,-0.16,-0.26,-0.58,
-1.04,-0.76,-0.65,-0.51,-0.55,-0.62,-0.46,-1.03,-0.65,-0.56,
-0.30,-0.81,-1.01,-0.58,-0.10,-0.83,-0.62,-0.37,-0.14,-0.37,
-1.08,-1.86,-0.94,-0.26,0.04,-0.10,-0.28,-0.90,-1.54,-1.15,
-0.83,-0.35,0.06,-0.21,-0.48,-0.79,-0.69,-0.76,-1.01,-1.45,
-0.83,-0.26,0.31,-0.23,-0.53,-0.58,-0.55,-0.97,-1.52,-1.11,
-0.79,-0.40,-0.25,-0.37,-0.65,-0.81,-0.87,-1.08,-0.97,-0.76,
-0.51,-0.58,-0.62,-0.74,-0.88,-0.58,-0.39,-0.55,-0.72,-0.90,
-1.26,-0.81,-0.48,-0.62,-0.56,-0.58,-0.76,-1.08,-0.65,-0.72,
-0.65,-0.79,-1.08,-0.76,-0.55,-0.51,-0.72,-0.87,-0.94,-0.72,
-0.62,-0.67,-0.48,-0.87,-1.18,-0.79,-0.48,-0.81,-0.51,-0.35,
-0.58,-1.08,-1.47,-1.11,-0.62,-0.26,-0.07,-0.33,-0.72,-1.22,
-1.43,-1.54,-1.11,-0.45];

const svg=d3.select("#chart");
const SANS="'Liberation Sans', Arial, sans-serif";
const SERIF="'Liberation Serif', 'Times New Roman', serif";
const INK="#262626";
const plotLeft=96, plotRight=1092;

const panels=[
 {id:"s11",freq:s11Freq,series:[s11Cal1,s11Cal2,s11Cal3],top:17,bottom:255,yDomain:[-70,0],
  yTicks:s11YTicks,gridY:[0,-20,-40,-60],ylabel:"Module S11 (dB)",ylabelX:37,titleY:326,legend:true},
 {id:"s21",freq:s21Freq,series:[s21Cal1,s21Cal2,s21Cal3],top:350,bottom:585,yDomain:[-2,0.5],
  yTicks:s21YTicks,gridY:[0,-1],ylabel:"Module S21 (dB)",ylabelX:47,titleY:656,legend:false}
];

panels.forEach(p=>{
  const x=d3.scaleLinear().domain([xTicks[0],xTicks[xTicks.length-1]]).range([plotLeft,plotRight]);
  const y=d3.scaleLinear().domain(p.yDomain).range([p.bottom,p.top]);
  const g=svg.append("g");

  const grid=g.append("g").attr("stroke","#a3a3a3").attr("stroke-width",1).attr("stroke-dasharray","1.5,1.5").attr("fill","none");
  xTicks.slice(1).forEach(t=>{
    grid.append("line").attr("x1",x(t)).attr("x2",x(t)).attr("y1",p.top).attr("y2",p.bottom);
  });
  p.gridY.forEach(t=>{
    grid.append("line").attr("x1",plotLeft).attr("x2",plotRight).attr("y1",y(t)).attr("y2",y(t));
  });

  svg.append("clipPath").attr("id","clip-"+p.id).append("rect")
    .attr("x",plotLeft).attr("y",p.top-2).attr("width",plotRight-plotLeft+2).attr("height",p.bottom-p.top+2);

  const line=d3.line().x(d=>x(d[0])).y(d=>y(d[1]));
  const lg=g.append("g").attr("clip-path","url(#clip-"+p.id+")");
  p.series.forEach((vals,k)=>{
    const data=p.freq.map((f,i)=>[f,vals[i]]).filter(d=>d[1]!=null&&!isNaN(d[1]));
    lg.append("path").datum(data).attr("d",line).attr("fill","none")
      .attr("stroke",seriesColors[k]).attr("stroke-width",2.6).attr("stroke-linejoin","round");
  });

  const xa=g.append("g").attr("transform",`translate(0,${p.bottom})`)
    .call(d3.axisBottom(x).tickValues(xTicks).tickSizeInner(-10).tickSizeOuter(0).tickPadding(19).tickFormat(d=>String(d)));
  const ya=g.append("g").attr("transform",`translate(${plotLeft},0)`)
    .call(d3.axisLeft(y).tickValues(p.yTicks).tickSizeInner(-10).tickSizeOuter(0).tickPadding(13).tickFormat(d=>String(d)));
  [xa,ya].forEach(a=>{
    a.select(".domain").attr("stroke",INK).attr("stroke-width",2.2);
    a.selectAll(".tick line").attr("stroke",INK).attr("stroke-width",2);
    a.selectAll(".tick text").attr("fill",INK).style("font-family",SANS).style("font-size","28px");
  });

  g.append("text").attr("x",(plotLeft+plotRight)/2).attr("y",p.titleY).attr("text-anchor","middle")
    .style("font-family",SERIF).style("font-size","31px").attr("fill",INK).text(xTitle);
  g.append("text").attr("transform",`translate(${p.ylabelX},${(p.top+p.bottom)/2}) rotate(-90)`)
    .attr("text-anchor","middle").style("font-family",SERIF).style("font-size","28px").attr("fill",INK).text(p.ylabel);

  if(p.legend){
    const L=g.append("g");
    L.append("rect").attr("x",955).attr("y",88).attr("width",128).attr("height",120)
      .attr("fill","#fff").attr("stroke","#333").attr("stroke-width",1.3);
    seriesNames.forEach((n,k)=>{
      const ly=110+k*38.5;
      L.append("line").attr("x1",962).attr("x2",1019).attr("y1",ly).attr("y2",ly)
        .attr("stroke",seriesColors[k]).attr("stroke-width",2);
      L.append("text").attr("x",1022).attr("y",ly+13).style("font-family",SERIF).style("font-size","28px")
        .attr("fill","#000").text(n);
    });
  }
});
</script>
</body></html>
